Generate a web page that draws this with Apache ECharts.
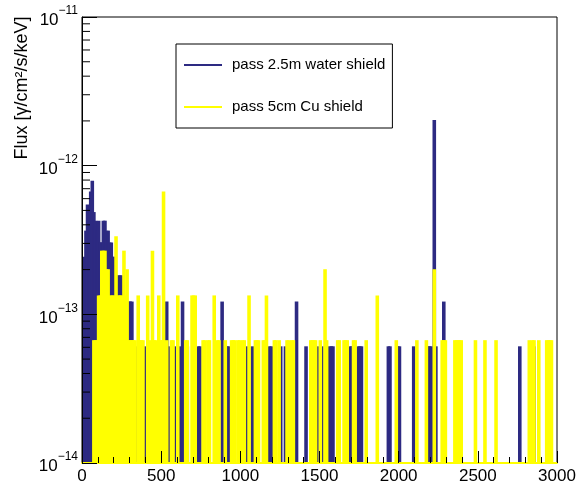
<!DOCTYPE html>
<html>
<head>
<meta charset="utf-8">
<script src="https://cdn.jsdelivr.net/npm/echarts@6/dist/echarts.min.js"></script>
<style>
html, body { margin: 0; padding: 0; background: #fff; }
#chart { width: 581px; height: 485px; }
</style>
</head>
<body>
<div id="chart"></div>
<script>
// histogram bins: [bin low edge (keV), flux]
var waterBins = [
	[10, 2.4e-13], [20, 3.6e-13], [30, 5.4e-13], [40, 4.8e-13], [50, 6.6e-13], [60, 7.8e-13],
	[70, 4.8e-13], [80, 4.2e-13], [90, 3.6e-13], [100, 4.2e-13], [110, 3.0e-13], [120, 3.0e-13],
	[130, 4.2e-13], [140, 4.2e-13], [150, 3.6e-13], [160, 3.6e-13], [170, 3.0e-13], [180, 3.0e-13],
	[190, 2.4e-13], [200, 2.4e-13], [210, 1.8e-13], [220, 1.8e-13], [230, 1.8e-13], [240, 1.8e-13],
	[250, 1.8e-13], [260, 1.2e-13], [270, 1.2e-13], [280, 1.2e-13], [290, 1.2e-13], [300, 1.2e-13],
	[310, 1.2e-13], [340, 6e-14], [370, 6e-14], [390, 6e-14], [420, 6e-14], [450, 6e-14],
	[530, 1.2e-13], [550, 6e-14], [580, 6e-14], [610, 6e-14], [630, 1.2e-13], [660, 6e-14],
	[730, 6e-14], [740, 6e-14], [880, 1.2e-13], [910, 6e-14], [920, 6e-14], [1040, 6e-14],
	[1070, 6e-14], [1180, 6e-14], [1190, 6e-14], [1250, 6e-14], [1280, 6e-14], [1350, 1.2e-13],
	[1410, 6e-14], [1480, 6e-14], [1510, 6e-14], [1560, 6e-14], [1570, 6e-14], [1580, 6e-14],
	[1690, 6e-14], [1700, 6e-14], [1740, 6e-14], [1750, 6e-14], [1760, 6e-14], [1930, 6e-14],
	[1940, 6e-14], [1990, 6e-14], [2000, 6e-14], [2090, 6e-14], [2180, 6e-14], [2190, 6e-14],
	[2200, 6e-14], [2220, 2.0e-12], [2230, 6e-14], [2280, 1.2e-13], [2760, 6e-14], [2850, 6e-14]
];
var cuBins = [
	[70, 6.6e-14], [80, 6.6e-14], [90, 6.6e-14], [100, 1.32e-13], [110, 1.32e-13], [120, 2.64e-13],
	[130, 2.64e-13], [140, 2.64e-13], [150, 1.98e-13], [160, 1.98e-13], [170, 1.32e-13], [180, 1.32e-13],
	[190, 1.32e-13], [200, 1.32e-13], [210, 3.3e-13], [220, 1.32e-13], [230, 1.32e-13], [240, 1.32e-13],
	[250, 1.32e-13], [260, 2.64e-13], [270, 1.32e-13], [280, 1.98e-13], [290, 6.6e-14], [300, 6.6e-14],
	[310, 6.6e-14], [320, 6.6e-14], [330, 6.6e-14], [350, 1.32e-13], [360, 6.6e-14], [370, 6.6e-14],
	[380, 6.6e-14], [410, 1.32e-13], [420, 6.6e-14], [440, 2.64e-13], [450, 6.6e-14], [460, 6.6e-14],
	[480, 1.32e-13], [490, 6.6e-14], [500, 6.6e-14], [510, 6.6e-13], [530, 6.6e-14], [560, 6.6e-14],
	[570, 6.6e-14], [600, 1.32e-13], [650, 6.6e-14], [660, 6.6e-14], [690, 1.32e-13], [700, 1.32e-13],
	[710, 1.32e-13], [760, 6.6e-14], [770, 6.6e-14], [790, 6.6e-14], [800, 6.6e-14], [830, 1.32e-13],
	[850, 6.6e-14], [860, 6.6e-14], [900, 6.6e-14], [940, 6.6e-14], [950, 6.6e-14], [960, 6.6e-14],
	[980, 6.6e-14], [990, 6.6e-14], [1010, 6.6e-14], [1020, 6.6e-14], [1050, 1.32e-13], [1090, 6.6e-14],
	[1100, 6.6e-14], [1110, 6.6e-14], [1140, 6.6e-14], [1150, 6.6e-14], [1160, 1.32e-13], [1210, 6.6e-14],
	[1220, 6.6e-14], [1240, 6.6e-14], [1290, 6.6e-14], [1300, 6.6e-14], [1320, 6.6e-14], [1330, 6.6e-14],
	[1440, 6.6e-14], [1450, 6.6e-14], [1460, 6.6e-14], [1470, 6.6e-14], [1500, 6.6e-14], [1530, 1.98e-13],
	[1540, 6.6e-14], [1610, 6.6e-14], [1620, 6.6e-14], [1650, 6.6e-14], [1660, 6.6e-14], [1670, 6.6e-14],
	[1710, 6.6e-14], [1720, 6.6e-14], [1790, 6.6e-14], [1860, 1.32e-13], [1980, 6.6e-14], [2110, 6.6e-14],
	[2170, 6.6e-14], [2220, 1.98e-13], [2270, 6.6e-14], [2280, 6.6e-14], [2290, 6.6e-14], [2350, 6.6e-14],
	[2360, 6.6e-14], [2370, 6.6e-14], [2380, 6.6e-14], [2390, 6.6e-14], [2480, 6.6e-14], [2540, 6.6e-14],
	[2610, 6.6e-14], [2820, 6.6e-14], [2840, 6.6e-14], [2850, 6.6e-14], [2880, 6.6e-14], [2930, 6.6e-14],
	[2940, 6.6e-14], [2950, 6.6e-14], [2960, 6.6e-14]
];
var seriesNames = ['pass 2.5m water shield', 'pass 5cm Cu shield'];
var yMinorTicks = [
	2e-14, 3e-14, 4e-14, 5e-14, 6e-14, 7e-14, 8e-14, 9e-14,
	2e-13, 3e-13, 4e-13, 5e-13, 6e-13, 7e-13, 8e-13, 9e-13,
	2e-12, 3e-12, 4e-12, 5e-12, 6e-12, 7e-12, 8e-12, 9e-12
];
var binWidth = 10;
var yMin = 1e-14, yMax = 1e-11;
var font = '"Liberation Sans", Arial, Helvetica, sans-serif';
var blue = '#2d2a82', yellow = '#ffff00';

function histItem(color) {
	return function (params, api) {
		var e = api.value(0), v = api.value(1);
		var top = api.coord([e, v]);
		var right = api.coord([e + binWidth, v]);
		var base = api.coord([e, yMin]);
		return {
			type: 'rect',
			shape: { x: top[0], y: top[1], width: right[0] - top[0], height: base[1] - top[1] },
			style: { fill: color, stroke: color, lineWidth: 2 }
		};
	};
}

var myChart = echarts.init(document.getElementById('chart'));
myChart.setOption({
	animation: false,
	grid: { left: 82, right: 24, top: 17, bottom: 20, show: true, borderColor: '#000', borderWidth: 1 },
	legend: {
		orient: 'vertical', left: 176, top: 44,
		data: [{ name: seriesNames[0], icon: 'rect' }, { name: seriesNames[1], icon: 'rect' }],
		itemWidth: 38, itemHeight: 2, itemGap: 26,
		padding: [13, 7, 13, 8],
		borderColor: '#000', borderWidth: 1, backgroundColor: '#fff',
		textStyle: { fontFamily: font, fontSize: 15, color: '#000', lineHeight: 16, padding: [0, 0, 0, 5] }
	},
	xAxis: {
		type: 'value', min: 0, max: 3000, interval: 500, z: 5,
		axisLine: { show: true, onZero: false, lineStyle: { color: yellow, width: 2 } },
		axisTick: { inside: true, length: 12, lineStyle: { color: '#000' } },
		minorTick: { show: true, splitNumber: 5, length: 6, lineStyle: { color: '#000' } },
		axisLabel: {
			fontFamily: font, fontSize: 17, color: '#000', margin: 5,
			formatter: function (v) { return String(v); }
		},
		splitLine: { show: false }
	},
	yAxis: {
		type: 'log', logBase: 10, min: yMin, max: yMax, z: 5,
		axisLine: { show: true, lineStyle: { color: '#000' } },
		axisTick: { inside: true, length: 15, lineStyle: { color: '#000' } },
		axisLabel: {
			margin: 4,
			formatter: function (v) {
				var e = Math.round(Math.log10(v));
				return '{b|10}{e|' + String(e).replace('-', '\u2212') + '}';
			},
			rich: {
				b: { fontFamily: font, fontSize: 17, color: '#000', lineHeight: 24, verticalAlign: 'bottom' },
				e: { fontFamily: font, fontSize: 12, color: '#000', lineHeight: 12, verticalAlign: 'top' }
			}
		},
		splitLine: { show: false }
	},
	graphic: [{
		type: 'text', x: 22, y: 88, rotation: Math.PI / 2, z: 10,
		style: {
			text: 'Flux [\u03b3/cm\u00b2/s/keV]', fontFamily: font, fontSize: 18, fill: '#000',
			align: 'center', verticalAlign: 'middle', textAlign: 'center', textVerticalAlign: 'middle'
		}
	}],
	series: [
		{
			name: seriesNames[0], type: 'custom', clip: true, itemStyle: { color: blue },
			encode: { x: 0, y: 1 }, data: waterBins, renderItem: histItem(blue)
		},
		{
			name: seriesNames[1], type: 'custom', clip: true, itemStyle: { color: yellow },
			encode: { x: 0, y: 1 }, data: cuBins, renderItem: histItem(yellow)
		},
		{
			name: 'yminor', type: 'custom', z: 10, silent: true,
			encode: { x: 0, y: 1 },
			data: yMinorTicks.map(function (v) { return [0, v]; }),
			renderItem: function (params, api) {
				var p = api.coord([0, api.value(1)]);
				return {
					type: 'line',
					shape: { x1: p[0], y1: p[1], x2: p[0] + 8, y2: p[1] },
					style: { stroke: '#000', lineWidth: 1 }
				};
			}
		}
	]
});
</script>
</body>
</html>
